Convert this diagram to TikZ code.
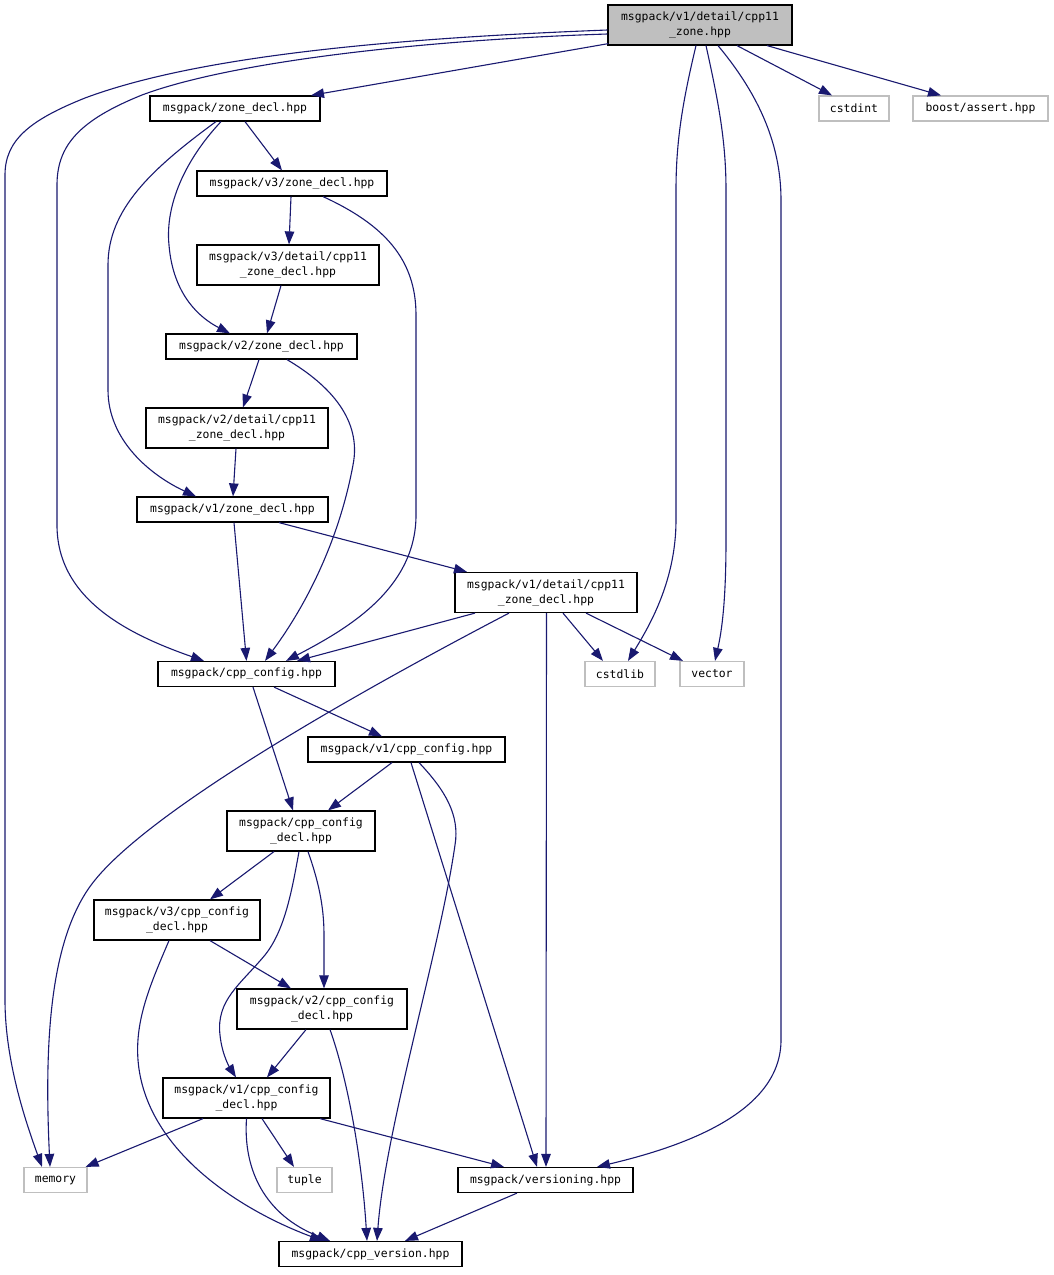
\documentclass[tikz,border=0pt]{standalone}
\usepackage{fontspec}
\newfontfamily\dxmono{DejaVu Sans Mono}
\usetikzlibrary{arrows.meta,calc}
\definecolor{navy}{HTML}{191970}
\definecolor{extgray}{HTML}{BFBFBF}
\newcommand\nfont{\dxmono\fontsize{11.4pt}{15pt}\selectfont}
\tikzset{
  box/.style={draw=black, line width=1.2pt, fill=white, inner sep=0pt, font=\nfont, align=center, minimum height=25pt},
  tall/.style={minimum height=40pt},
  ext/.style={box, draw=extgray},
  edge/.style={draw=navy, line width=1.1pt, -{Triangle[length=13pt,width=9.5pt]}},
}
\begin{document}
\begin{tikzpicture}[x=1pt,y=-1pt]
\useasboundingbox (0,0) rectangle (1054,1275);
\fill[white] (0,0) rectangle (1054,1275);
% nodes
\node[box, tall, fill=extgray, minimum width=184pt] (root) at (700,25) {msgpack/v1/detail/cpp11\\\_zone.hpp};
\node[box, minimum width=170pt] (zd) at (235,108.5) {msgpack/zone\_decl.hpp};
\node[ext, minimum width=70pt] (cstdint) at (854,108.5) {cstdint};
\node[ext, minimum width=135pt] (boost) at (980.5,108.5) {boost/assert.hpp};
\node[box, minimum width=190pt] (v3zd) at (292,183.5) {msgpack/v3/zone\_decl.hpp};
\node[box, tall, minimum width=182pt] (v3d) at (288,265) {msgpack/v3/detail/cpp11\\\_zone\_decl.hpp};
\node[box, minimum width=191pt] (v2zd) at (261.5,346.5) {msgpack/v2/zone\_decl.hpp};
\node[box, tall, minimum width=182pt] (v2d) at (237,428) {msgpack/v2/detail/cpp11\\\_zone\_decl.hpp};
\node[box, minimum width=191pt] (v1zd) at (232.5,509.5) {msgpack/v1/zone\_decl.hpp};
\node[box, tall, minimum width=182pt] (v1d) at (546,592.5) {msgpack/v1/detail/cpp11\\\_zone\_decl.hpp};
\node[box, minimum width=177pt] (cpp) at (246.5,674) {msgpack/cpp\_config.hpp};
\node[ext, minimum width=70pt] (cstdlib) at (620,674) {cstdlib};
\node[ext, minimum width=64pt] (vector) at (712,674) {vector};
\node[box, minimum width=197pt] (v1cfg) at (406.5,749.5) {msgpack/v1/cpp\_config.hpp};
\node[box, tall, minimum width=148pt] (cfgdecl) at (301,831) {msgpack/cpp\_config\\\_decl.hpp};
\node[box, tall, minimum width=166pt] (v3cfg) at (177,920) {msgpack/v3/cpp\_config\\\_decl.hpp};
\node[box, tall, minimum width=170pt] (v2cfg) at (322,1009) {msgpack/v2/cpp\_config\\\_decl.hpp};
\node[box, tall, minimum width=167pt] (v1cd) at (246.5,1098) {msgpack/v1/cpp\_config\\\_decl.hpp};
\node[ext, minimum width=63pt] (memory) at (55.5,1180) {memory};
\node[ext, minimum width=55pt] (tuple) at (304.5,1180) {tuple};
\node[box, minimum width=175pt] (vers) at (545.5,1180) {msgpack/versioning.hpp};
\node[box, minimum width=183pt] (cppv) at (370.5,1254) {msgpack/cpp\_version.hpp};
% edges from root
\draw[edge] ($(root.west)+(0,5)$) .. controls (400,38) and (200,55) .. (85,98) .. controls (30,120) and (5,140) .. (5,175) -- (5,1000) .. controls (5,1060) and (25,1120) .. ($(memory.north)+(-13.5,0)$);
\draw[edge] ($(root.west)+(0,9)$) .. controls (420,40) and (230,62) .. (142,95) .. controls (80,120) and (57,145) .. (57,185) -- (57,525) .. controls (57,600) and (130,635) .. ($(cpp.north)+(-42.5,0)$);
\draw[edge] ($(root.south west)+(1,-2)$) -- ($(zd.north)+(76,0)$);
\draw[edge] ($(root.south)+(-4,0)$) .. controls (683,100) and (676,140) .. (676,190) -- (676,520) .. controls (676,580) and (650,625) .. ($(cstdlib.north)+(8,0)$);
\draw[edge] ($(root.south)+(6,0)$) .. controls (718,100) and (726,140) .. (726,190) -- (726,540) .. controls (726,600) and (722,630) .. ($(vector.north)+(3,0)$);
\draw[edge] ($(root.south)+(18,0)$) .. controls (755,90) and (781,140) .. (781,200) -- (781,1040) .. controls (781,1110) and (690,1145) .. ($(vers.north)+(51.5,0)$);
\draw[edge] ($(root.south)+(37,0)$) -- ($(cstdint.north)+(-22,0)$);
\draw[edge] ($(root.south)+(67,0)$) -- ($(boost.north)+(-39.5,0)$);
% zone_decl
\draw[edge] ($(zd.south)+(10,0)$) -- ($(v3zd.north)+(-10,0)$);
\draw[edge] ($(zd.south)+(-14,0)$) .. controls (185,160) and (165,205) .. (169,245) .. controls (173,295) and (200,318) .. ($(v2zd.north)+(-31.5,0)$);
\draw[edge] ($(zd.south)+(-19,0)$) .. controls (150,170) and (108,210) .. (108,265) -- (108,390) .. controls (108,440) and (150,475) .. ($(v1zd.north)+(-36.5,0)$);
% v3
\draw[edge] ($(v3zd.south)+(-1,0)$) -- ($(v3d.north)+(1,0)$);
\draw[edge] ($(v3zd.south)+(31,0)$) .. controls (385,225) and (416,260) .. (416,315) -- (416,515) .. controls (416,590) and (345,630) .. ($(cpp.north)+(39.5,0)$);
\draw[edge] ($(v3d.south)+(-7,0)$) -- ($(v2zd.north)+(5.5,0)$);
% v2
\draw[edge] ($(v2zd.south)+(-2.5,0)$) -- ($(v2d.north)+(6,0)$);
\draw[edge] ($(v2zd.south)+(25.5,0)$) .. controls (330,385) and (362,420) .. (353,465) .. controls (340,535) and (310,600) .. ($(cpp.north)+(18.5,0)$);
\draw[edge] ($(v2d.south)+(-1,0)$) -- ($(v1zd.north)+(0.5,0)$);
% v1
\draw[edge] ($(v1zd.south)+(1.5,0)$) -- ($(cpp.north)+(0,0)$);
\draw[edge] ($(v1zd.south)+(46.5,0)$) -- ($(v1d.north)+(-79,0)$);
\draw[edge] ($(v1d.south)+(-71,0)$) -- ($(cpp.north)+(50.5,0)$);
\draw[edge] ($(v1d.south)+(-37,0)$) .. controls (400,670) and (160,800) .. (95,880) .. controls (50,935) and (44,1040) .. ($(memory.north)+(-5.5,0)$);
\draw[edge] ($(v1d.south)+(0.5,0)$) -- ($(vers.north)+(0.5,0)$);
\draw[edge] ($(v1d.south)+(17,0)$) -- ($(cstdlib.north)+(-17,0)$);
\draw[edge] ($(v1d.south)+(40,0)$) -- ($(vector.north)+(-29,0)$);
% cpp_config
\draw[edge] ($(cpp.south)+(6.5,0)$) -- ($(cfgdecl.north)+(-8,0)$);
\draw[edge] ($(cpp.south)+(27.5,0)$) -- ($(v1cfg.north)+(-24.5,0)$);
\draw[edge] ($(v1cfg.south)+(-14.5,0)$) -- ($(cfgdecl.north)+(27,0)$);
\draw[edge] ($(v1cfg.south)+(4.5,0)$) -- ($(vers.north)+(-8.5,0)$);
\draw[edge] ($(v1cfg.south)+(12.5,0)$) .. controls (445,790) and (460,815) .. (455,845) .. controls (440,950) and (385,1130) .. ($(cppv.north)+(6.5,0)$);
% cpp_config_decl
\draw[edge] ($(cfgdecl.south)+(-27,0)$) -- ($(v3cfg.north)+(33,0)$);
\draw[edge] ($(cfgdecl.south)+(-2,0)$) .. controls (292,890) and (285,930) .. (265,955) .. controls (240,985) and (216,1000) .. (220,1035) .. controls (222,1055) and (230,1068) .. ($(v1cd.north)+(-10.5,0)$);
\draw[edge] ($(cfgdecl.south)+(7,0)$) .. controls (318,880) and (324,905) .. (324,935) -- ($(v2cfg.north)+(2,0)$);
\draw[edge] ($(v3cfg.south)+(33,0)$) -- ($(v2cfg.north)+(-31,0)$);
\draw[edge] ($(v3cfg.south)+(-8,0)$) .. controls (150,985) and (135,1020) .. (138,1060) .. controls (145,1150) and (240,1210) .. ($(cppv.north)+(-47.5,0)$);
\draw[edge] ($(v2cfg.south)+(-16,0)$) -- ($(v1cd.north)+(20.5,0)$);
\draw[edge] ($(v2cfg.south)+(8,0)$) .. controls (348,1080) and (362,1160) .. ($(cppv.north)+(-3.5,0)$);
\draw[edge] ($(v1cd.south)+(-43.5,0)$) -- ($(memory.north east)+(-2,0)$);
\draw[edge] ($(v1cd.south)+(0,0)$) .. controls (243,1170) and (265,1215) .. ($(cppv.north)+(-40.5,0)$);
\draw[edge] ($(v1cd.south)+(15.5,0)$) -- ($(tuple.north)+(-10.5,0)$);
\draw[edge] ($(v1cd.south)+(73.5,0)$) -- ($(vers.north)+(-41.5,0)$);
\draw[edge] ($(vers.south)+(-28.5,0)$) -- ($(cppv.north)+(34.5,0)$);
\end{tikzpicture}
\end{document}
